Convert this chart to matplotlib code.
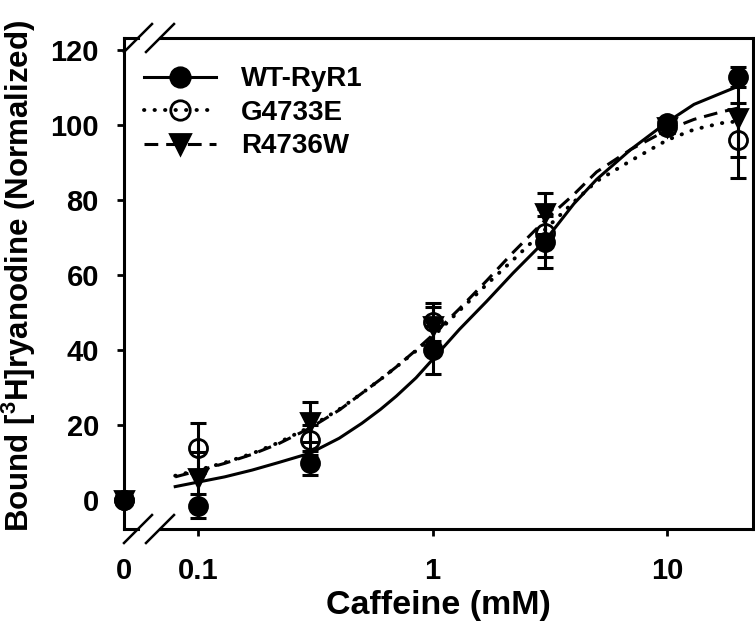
import matplotlib
matplotlib.use("Agg")
import matplotlib.pyplot as plt
from matplotlib.lines import Line2D

plt.rcParams['font.family'] = ['Liberation Sans', 'DejaVu Sans']
plt.rcParams['font.weight'] = 'bold'
plt.rcParams['mathtext.fontset'] = 'custom'
plt.rcParams['mathtext.rm'] = 'Liberation Sans:bold'
plt.rcParams['mathtext.bf'] = 'Liberation Sans:bold'
plt.rcParams['mathtext.default'] = 'rm'

# ---------------- data ----------------
conc = [0, 0.1, 0.3, 1, 3, 10, 20]          # caffeine (mM)
wt_mean = [0, -1.5, 9.9, 40.0, 68.8, 100.5, 112.8]
wt_err = [1.0, 3.2, 3.2, 6.4, 7.0, 1.5, 2.7]
g_mean = [0, 13.8, 16.0, 47.5, 71.2, 99.5, 96.0]
g_err = [1.0, 6.7, 4.0, 5.0, 6.3, 1.5, 10.0]
r_mean = [0, 5.8, 20.8, 46.5, 76.5, 99.5, 102.0]
r_err = [1.0, 6.9, 5.3, 5.0, 5.5, 1.5, 10.5]

# fitted curves
fit_x = [0.08, 0.1, 0.13, 0.17, 0.22, 0.3, 0.4, 0.5, 0.6, 0.7, 0.85, 1, 1.3, 1.7, 2.2, 3, 4, 5, 7, 10, 13, 17, 20]
wt_fit = [3.6, 4.8, 6.2, 8.0, 10.0, 12.5, 16.5, 20.5, 24.2, 27.7, 32.6, 37.5, 45.5, 53.0, 60.5, 69.0, 79.0, 85.5, 93.5, 100.8, 105.5, 108.5, 110.3]
g_fit = [6.5, 8.0, 10.0, 12.4, 15.3, 19.5, 24.2, 28.5, 32.2, 35.5, 39.8, 43.5, 50.5, 57.5, 64.0, 72.0, 79.5, 85.0, 90.5, 96.0, 98.8, 100.5, 101.0]
r_fit = [6.2, 7.8, 9.8, 12.2, 15.0, 19.2, 24.0, 28.5, 32.2, 35.5, 40.0, 44.0, 51.0, 58.5, 66.0, 74.5, 81.5, 87.5, 93.5, 98.7, 101.5, 103.5, 104.5]

labels = ['WT-RyR1', 'G4733E', 'R4736W']
xtick_vals = [0.1, 1, 10]
xtick_labels = ['0', '0.1', '1', '10']
yticks = [0, 20, 40, 60, 80, 100, 120]

# ---------------- layout ----------------
XMIN, XMAX = 0.0484, 23.2      # log axis; "0" drawn at the left edge
ZERO_POS = XMIN
YMIN, YMAX = -7.7, 123.2

fig = plt.figure(figsize=(7.55, 6.35), dpi=100)
ax = fig.add_axes([124/755, 1-529/635, 629/755, 491/635])
ax.set_xscale('log')
ax.set_xlim(XMIN, XMAX)
ax.set_ylim(YMIN, YMAX)

xp = [ZERO_POS if c == 0 else c for c in conc]

LW = 2.2
styles = [
    dict(ls='-', marker='o', mfc='black', fit=wt_fit, mean=wt_mean, err=wt_err),
    dict(ls=(0, (0.1, 2.6)), marker='o', mfc='none', fit=g_fit, mean=g_mean, err=g_err),
    dict(ls=(0, (4.5, 2.6)), marker='v', mfc='black', fit=r_fit, mean=r_mean, err=r_err),
]
lws = [LW, 2.8, LW]

for s, lw in zip(styles, lws):
    ax.plot(fit_x, s['fit'], color='black', lw=lw, ls=s['ls'],
            dash_capstyle='round' if s['mfc'] == 'none' else 'butt',
            solid_joinstyle='round', zorder=2)

for s in reversed(styles):
    ax.errorbar(xp, s['mean'], yerr=s['err'], fmt='none', ecolor='black',
                elinewidth=2.2, capsize=6, capthick=2.2, zorder=3, clip_on=False)
    ax.plot(xp, s['mean'], ls='none', marker=s['marker'], ms=13,
            mfc=s['mfc'], mec='black', mew=2.0, zorder=4, clip_on=False)

# ticks
ax.set_xticks([ZERO_POS] + xtick_vals)
ax.set_xticklabels(xtick_labels)
ax.xaxis.set_minor_locator(matplotlib.ticker.NullLocator())
ax.set_yticks(yticks)
ax.tick_params(axis='both', direction='out', length=5, width=2, labelsize=21)
ax.tick_params(axis='x', pad=15)
ax.tick_params(axis='y', pad=13)
ax.xaxis.get_major_ticks()[0].tick1line.set_visible(False)
for lab in ax.get_xticklabels() + ax.get_yticklabels():
    lab.set_fontweight('bold')

# spines with break
for sp in ['left', 'right']:
    ax.spines[sp].set_linewidth(2.2)
ax.spines['top'].set_visible(False)
ax.spines['bottom'].set_visible(False)
g1 = 14/629
g2 = 36/629
for yy in [0, 1]:
    ax.plot([0, g1], [yy, yy], transform=ax.transAxes, color='black', lw=2.2,
            clip_on=False, solid_capstyle='projecting', zorder=5)
    ax.plot([g2, 1], [yy, yy], transform=ax.transAxes, color='black', lw=2.2,
            clip_on=False, solid_capstyle='projecting', zorder=5)
    dx = 14/629
    dy = 14/491
    for gx in [g1, g2]:
        ax.plot([gx - dx, gx + dx], [yy - dy, yy + dy], transform=ax.transAxes,
                color='black', lw=1.8, clip_on=False, zorder=5)

ax.set_xlabel('Caffeine (mM)', fontsize=24.5, fontweight='bold', labelpad=4)
ax.set_ylabel(r'Bound [$^{3}$H]ryanodine (Normalized)', fontsize=22.5,
              fontweight='bold', labelpad=9)
ax.yaxis.label.set_y(0.515)

handles = []
for s, lw in zip(styles, lws):
    handles.append(Line2D([], [], color='black', lw=lw, ls=s['ls'], marker=s['marker'],
                          ms=14, mfc=s['mfc'], mec='black', mew=2.0,
                          dash_capstyle='round' if s['mfc'] == 'none' else 'butt'))
leg = ax.legend(handles, labels, loc='upper left', bbox_to_anchor=(0.032, 0.942),
                frameon=False, fontsize=20, handlelength=2.6, handletextpad=0.9,
                labelspacing=0.27, borderpad=0, borderaxespad=0)
for t in leg.get_texts():
    t.set_fontweight('bold')

fig.savefig('out.png', dpi=100)
